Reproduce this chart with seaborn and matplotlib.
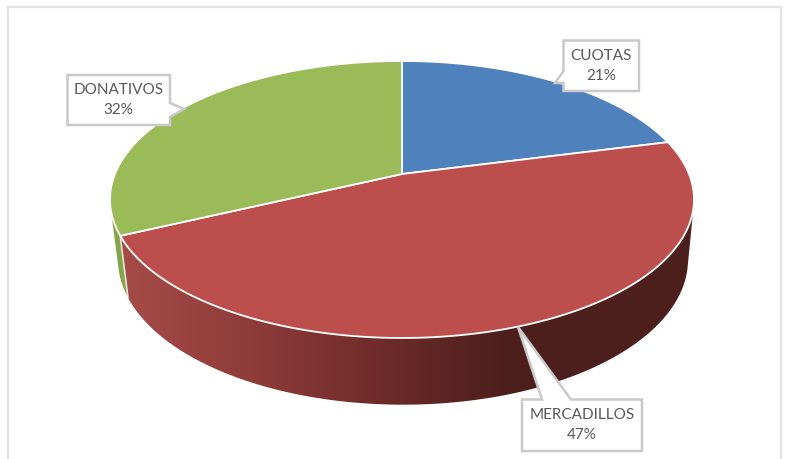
import numpy as np
import matplotlib
matplotlib.use("Agg")
import matplotlib.pyplot as plt
from matplotlib.patches import Polygon, Rectangle
from matplotlib.colors import LinearSegmentedColormap
import seaborn as sns

categories = ["CUOTAS", "MERCADILLOS", "DONATIVOS"]
values = [21, 47, 32]
slice_colors = ["#4F81BD", "#BC4F4D", "#9BBB59"]
red_side_stops = ["#A64B48", "#8F3C3A", "#6E2C2A", "#4C1E1C"]
green_side = "#86A44C"
text_color = "#595959"
box_edge = "#C9C9C9"
frame_color = "#E2E2E2"

sns.set_theme(style="white")
plt.rcParams["font.family"] = ["Lato", "DejaVu Sans"]
palette = sns.color_palette(slice_colors)

fig = plt.figure(figsize=(7.86, 4.59), dpi=100)
ax = fig.add_axes([0, 0, 1, 1])
ax.axis("off")

CX, CY, A, B, K = 402.0, 174.0, 287.0, 133.8, 0.184
LX, SX, C2, SY = 403.0, 0.976, 233.0, 1.047


def top(theta):
    x, y = np.sin(theta), np.cos(theta)
    d = 1 + K * y
    return CX + A * x / d, -B * y / d


def upper(theta):
    x, y = top(theta)
    return np.column_stack([x, CY + y])


def lower(theta):
    x, y = top(theta)
    return np.column_stack([LX + SX * (x - CX), C2 + SY * y])


def hull(points):
    pts = sorted(map(tuple, points))

    def half(seq):
        out = []
        for p in seq:
            while len(out) > 1 and ((out[-1][0] - out[-2][0]) * (p[1] - out[-2][1])
                                    - (out[-1][1] - out[-2][1]) * (p[0] - out[-2][0])) <= 0:
                out.pop()
            out.append(p)
        return out[:-1]

    return np.array(half(pts) + half(pts[::-1]))


def wall_outline(t0, t1):
    th = np.linspace(t0, t1, 400)
    return hull(np.vstack([upper(th), lower(th)]))


ax.add_patch(Rectangle((8, 7), 773, 470, fc="white", ec=frame_color, lw=1.6, zorder=0))

edges = 2 * np.pi * np.cumsum([0] + values) / sum(values)

# green wall, behind the red one
ax.add_patch(Polygon(wall_outline(edges[2], edges[3]), closed=True,
                     fc=green_side, ec="none", zorder=0.5))

# red wall: horizontal gradient clipped to the wall outline
wall = Polygon(wall_outline(edges[1], edges[2]), closed=True, fc="none", ec="none",
               transform=ax.transData)
ax.add_patch(wall)
cmap = LinearSegmentedColormap.from_list("wall", red_side_stops)
img = ax.imshow(np.linspace(0, 1, 256).reshape(1, -1), cmap=cmap, aspect="auto",
                extent=(120, 510, 420, 130), zorder=1, interpolation="bilinear")
ext = ax.imshow(np.array([[1.0]]), cmap=cmap, vmin=0, vmax=1, aspect="auto",
                extent=(510, 700, 420, 130), zorder=1)
img.set_clip_path(wall)
ext.set_clip_path(wall)

# white seam between the red and green walls
th_seam = np.array([edges[2]])
seam = np.vstack([upper(th_seam), lower(th_seam)])
ax.plot(seam[:, 0], seam[:, 1], color="white", lw=1.2, zorder=2, alpha=0.8)

# top face
for idx in range(3):
    th = np.linspace(edges[idx], edges[idx + 1], 200)
    pts = np.vstack([[[CX, CY]], upper(th)])
    ax.add_patch(Polygon(pts, closed=True, fc=palette[idx], ec="white", lw=1.3, zorder=3, joinstyle="round"))

# callouts
boxes = {
    "CUOTAS": ((563.5, 40.5, 639, 91), [(563.5, 71), (555, 83), (563.5, 83)]),
    "DONATIVOS": ((67.5, 75, 170, 125), [(170, 103), (184, 109), (170, 117)]),
    "MERCADILLOS": ((522, 399.5, 642, 451), [(542, 399.5), (518, 327), (571, 399.5)]),
}
for name, val in zip(categories, values):
    (x0, y0, x1, y1), tip = boxes[name]
    a, t, b = tip
    if name == "CUOTAS":
        outline = [(x0, y0), (x1, y0), (x1, y1), (x0, y1), b, t, a]
    elif name == "DONATIVOS":
        outline = [(x0, y0), (x1, y0), a, t, b, (x1, y1), (x0, y1)]
    else:
        outline = [(x0, y0), a, t, b, (x1, y0), (x1, y1), (x0, y1)]
    ax.add_patch(Polygon(outline, closed=True, fc="white", ec=box_edge, lw=1.8, zorder=5, joinstyle="miter"))
    ax.text((x0 + x1) / 2, (y0 + y1) / 2, f"{name}\n{val}%", ha="center", va="center",
            color=text_color, fontsize=11, linespacing=1.55, zorder=6)

ax.set_xlim(0, 786)
ax.set_ylim(459, 0)
fig.savefig("out.png", dpi=100, facecolor="white")
